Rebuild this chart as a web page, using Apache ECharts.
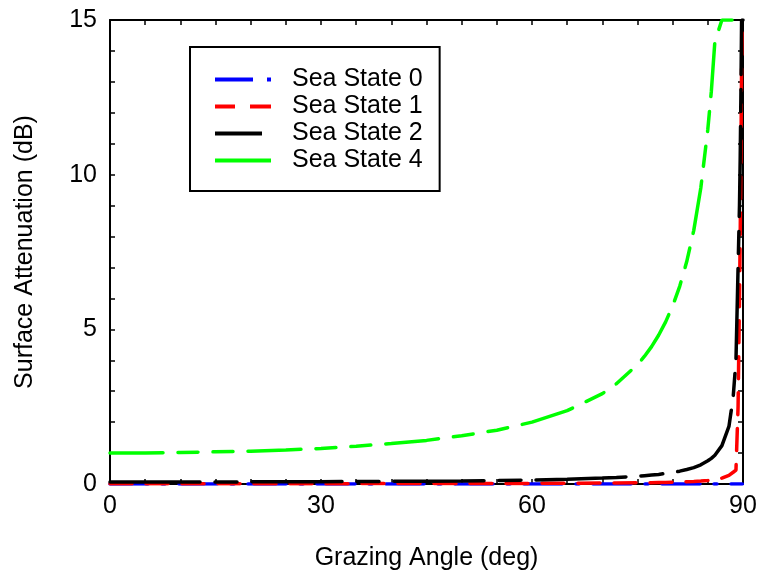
<!DOCTYPE html>
<html>
<head>
<meta charset="utf-8">
<script src="https://cdn.jsdelivr.net/npm/echarts@6/dist/echarts.min.js"></script>
<style>
html,body{margin:0;padding:0;background:#fff;}
#chart{width:761px;height:579px;}
</style>
</head>
<body>
<div id="chart"></div>
<script>
// ---- data ----
var seriesNames = ['Sea State 0', 'Sea State 1', 'Sea State 2', 'Sea State 4'];
var angles    = [0, 5, 10, 15, 20, 25, 30, 35, 40, 45, 50, 55, 60, 65, 70, 72, 75, 76, 77, 78, 79, 80, 81, 82, 83, 84, 85, 85.5, 86, 87, 88, 88.6, 89, 89.3, 89.5, 89.6, 89.7, 89.8, 89.9, 90];
var seaState0 = [0, 0, 0, 0, 0, 0, 0, 0, 0, 0, 0, 0, 0, 0, 0, 0, 0, 0, 0, 0, 0, 0, 0, 0, 0, 0, 0, 0, 0, 0, 0, 0, 0, 0, 0, 0, 0, 0, 0, 0];
var seaState1 = [0.01, 0.01, 0.01, 0.01, 0.011, 0.011, 0.012, 0.012, 0.013, 0.014, 0.016, 0.017, 0.02, 0.024, 0.03, 0.032, 0.04, 0.041, 0.044, 0.05, 0.052, 0.058, 0.064, 0.072, 0.082, 0.096, 0.115, 0.127, 0.14, 0.19, 0.28, 0.38, 0.45, 2.5, 6, 8, 10.5, 13.5, 15, 15];
var seaState2 = [0.065, 0.065, 0.066, 0.067, 0.069, 0.072, 0.075, 0.079, 0.085, 0.092, 0.10, 0.113, 0.13, 0.154, 0.19, 0.21, 0.25, 0.27, 0.29, 0.31, 0.34, 0.37, 0.415, 0.47, 0.53, 0.62, 0.75, 0.83, 0.93, 1.24, 1.86, 2.8, 4.0, 7.0, 9.0, 10.5, 12.5, 15, 15, 15];
var seaState4 = [1.00, 1.00, 1.02, 1.04, 1.06, 1.10, 1.15, 1.22, 1.31, 1.41, 1.56, 1.74, 2.00, 2.37, 2.92, 3.24, 3.86, 4.13, 4.44, 4.81, 5.24, 5.76, 6.39, 7.19, 8.2, 9.57, 11.47, 12.7, 14.3, 15, 15, 15, 15, 15, 15, 15, 15, 15, 15, 15];
var xTickLabels = [0, 30, 60, 90];
var yTickLabels = [0, 5, 10, 15];

function pairs(vals) {
  return angles.map(function (a, i) { return [a, vals[i]]; });
}

var FONT = 'Liberation Sans, Arial, Helvetica, sans-serif';
var chart = echarts.init(document.getElementById('chart'), null, {renderer: 'canvas'});

function axisBase(minorSplit) {
  return {
    axisLine: {show: true, onZero: false, lineStyle: {color: '#000', width: 2}},
    axisTick: {show: true, inside: true, length: 5, lineStyle: {color: '#000', width: 1.5}},
    minorTick: {show: true, splitNumber: minorSplit, length: 5, lineStyle: {color: '#000', width: 1.5}},
    splitLine: {show: false},
    minorSplitLine: {show: false}
  };
}

function mkSeries(name, vals, color, dash, z) {
  return {
    name: name, type: 'line', data: pairs(vals), symbol: 'none', z: z,
    xAxisIndex: 0, yAxisIndex: 0,
    lineStyle: {color: color, width: 3.5, type: dash, cap: 'round'},
    itemStyle: {color: color},
    animation: false
  };
}

var xb = axisBase(6), xt = axisBase(6), yl = axisBase(5), yr = axisBase(5);
Object.assign(xb, {
  type: 'value', min: 0, max: 90, interval: 30, position: 'bottom',
  axisLabel: {show: true, margin: 10, fontFamily: FONT, fontSize: 25, color: '#000',
    formatter: function (v) { return xTickLabels.indexOf(v) >= 0 ? String(v) : ''; }},
  name: 'Grazing Angle (deg)', nameLocation: 'middle', nameGap: 62,
  nameTextStyle: {fontFamily: FONT, fontSize: 25, color: '#000'}
});
Object.assign(xt, {type: 'value', min: 0, max: 90, interval: 30, position: 'top', axisLabel: {show: false}});
Object.assign(yl, {
  type: 'value', min: 0, max: 15, interval: 5, position: 'left',
  axisLabel: {show: true, margin: 13, fontFamily: FONT, fontSize: 25, color: '#000',
    formatter: function (v) { return yTickLabels.indexOf(v) >= 0 ? String(v) : ''; }},
  name: 'Surface Attenuation (dB)', nameLocation: 'middle', nameGap: 72,
  nameTextStyle: {fontFamily: FONT, fontSize: 25, color: '#000'}
});
Object.assign(yr, {type: 'value', min: 0, max: 15, interval: 5, position: 'right', axisLabel: {show: false}});

var legendIcons = [
  'path://M0,0h38v4h-38zM52,0h4v4h-4z',
  'path://M0,0h20v4h-20zM35,0h21v4h-21z',
  'path://M0,0h47v4h-47zM55.99,1.99h0.01v0.01h-0.01z',
  'path://M0,0h56v4h-56z'
];
var legendColors = ['#0000ff', '#ff0000', '#000000', '#00ff00'];

var option = {
  animation: false,
  backgroundColor: '#fff',
  grid: {left: 110, right: 18, top: 20, bottom: 95, containLabel: false},
  legend: {
    orient: 'vertical',
    left: 190, top: 47,
    padding: [20, 17, 18, 25],
    itemWidth: 56, itemHeight: 4, itemGap: 2,
    borderColor: '#000', borderWidth: 2,
    backgroundColor: '#fff',
    textStyle: {fontFamily: FONT, fontSize: 25, color: '#000', padding: [0, 0, 0, 16]},
    data: seriesNames.map(function (n, i) {
      return {name: n, icon: legendIcons[i], itemStyle: {color: legendColors[i], borderWidth: 0}};
    })
  },
  xAxis: [xb, xt],
  yAxis: [yl, yr],
  series: [
    mkSeries(seriesNames[0], seaState0, '#0000ff', [38, 14, 3, 14], 2),
    mkSeries(seriesNames[1], seaState1, '#ff0000', [22, 14], 3),
    mkSeries(seriesNames[2], seaState2, '#000000', [90, 15, 22, 15], 4),
    mkSeries(seriesNames[3], seaState4, '#00ff00', [53, 15, 20, 15, 20, 15], 5)
  ]
};
chart.setOption(option);
</script>
</body>
</html>
